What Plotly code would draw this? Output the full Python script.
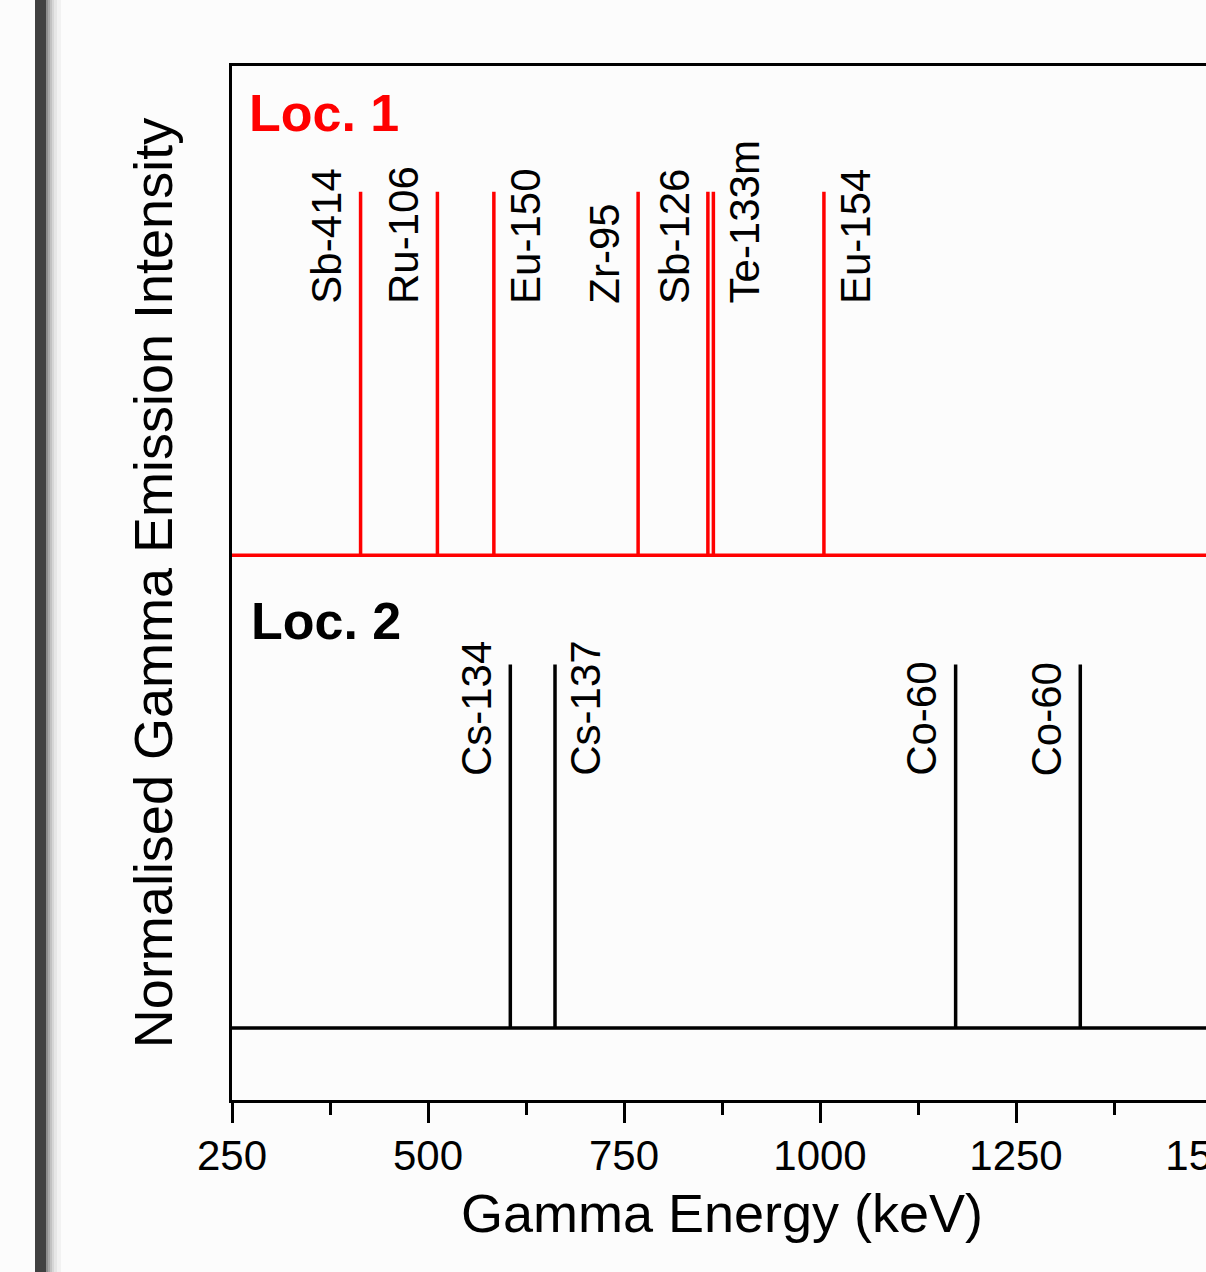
import plotly.graph_objects as go

# ---------------- data ----------------
loc1_names = ["Sb-414", "Ru-106", "Eu-150", "Zr-95", "Sb-126", "Te-133m", "Eu-154"]
loc1_energy = [414, 512, 584, 768, 857, 864, 1005]
loc1_intensity = [1, 1, 1, 1, 1, 1, 1]

loc2_names = ["Cs-134", "Cs-137", "Co-60", "Co-60"]
loc2_energy = [605, 662, 1173, 1332]
loc2_intensity = [1, 1, 1, 1]

x_ticks = [250, 500, 750, 1000, 1250, 1500]
x_range = [250, 1500]

# ---------------- style ----------------
LOC1_OFFSET = 1.3
LOC2_OFFSET = 0.0
LABEL_LEVEL = 0.687
loc1_label_side = [-1, -1, 1, -1, -1, 1, 1]
loc2_label_side = [-1, 1, -1, -1]
FONT = "Liberation Sans, Arial, sans-serif"
BG = "#fcfcfc"

W, H = 1290, 1272
ML, MR, MT, MB = 232, 78, 66, 172


def stick(energies, intens, offset):
    xs, ys = [x_range[0]], [offset]
    for e, v in sorted(zip(energies, intens)):
        xs += [e, e, e]
        ys += [offset, offset + v, offset]
    xs.append(x_range[1])
    ys.append(offset)
    return xs, ys


fig = go.Figure()
x1, y1 = stick(loc1_energy, loc1_intensity, LOC1_OFFSET)
x2, y2 = stick(loc2_energy, loc2_intensity, LOC2_OFFSET)
fig.add_trace(go.Scatter(x=x1, y=y1, mode="lines", line=dict(color="#ff0000", width=3.5), hoverinfo="skip"))
fig.add_trace(go.Scatter(x=x2, y=y2, mode="lines", line=dict(color="#000000", width=3.5), hoverinfo="skip"))

annotations = []
for names, energies, sides, off in [
    (loc1_names, loc1_energy, loc1_label_side, LOC1_OFFSET),
    (loc2_names, loc2_energy, loc2_label_side, LOC2_OFFSET),
]:
    for n, e, s in zip(names, energies, sides):
        annotations.append(dict(
            x=e, y=off + LABEL_LEVEL, xref="x", yref="y", text=n, showarrow=False,
            textangle=-90, xanchor="center", yanchor="bottom",
            xshift=34 * s if s < 0 else 31,
            font=dict(size=42, color="black", family=FONT),
        ))

annotations.append(dict(x=x_range[0], y=LOC1_OFFSET + 1.217, xref="x", yref="y", text="<b>Loc. 1</b>",
                        showarrow=False, xanchor="left", yanchor="middle", xshift=15,
                        font=dict(size=52, color="#ff0000", family=FONT)))
annotations.append(dict(x=x_range[0], y=LOC2_OFFSET + 1.12, xref="x", yref="y", text="<b>Loc. 2</b>",
                        showarrow=False, xanchor="left", yanchor="middle", xshift=17,
                        font=dict(size=52, color="#000000", family=FONT)))

# page-edge bar on the left (pixel -> paper helpers)
pw = W - ML - MR
ph = H - MT - MB


def px_x(p):
    return (p - ML) / pw


def px_y(p):
    return (H - MB - p) / ph


shapes = []
bands = [(35, 46, "#404040"), (46, 48, "#8c8c8c"), (48, 50, "#a8a8a8"), (50, 52, "#c2c2c2"),
         (52, 54, "#d6d6d6"), (54, 57, "#e6e6e6"), (57, 61, "#f2f2f2")]
for a, b, c in bands:
    shapes.append(dict(type="rect", xref="paper", yref="paper", x0=px_x(a), x1=px_x(b),
                       y0=px_y(H + 5), y1=px_y(-5), fillcolor=c, line=dict(width=0), layer="above"))

fig.update_layout(
    width=W, height=H,
    margin=dict(l=ML, r=MR, t=MT, b=MB, autoexpand=False),
    paper_bgcolor=BG, plot_bgcolor=BG,
    showlegend=False,
    font=dict(family=FONT, color="black"),
    annotations=annotations,
    shapes=shapes,
)
fig.update_xaxes(
    range=x_range, tickvals=x_ticks, ticktext=[str(t) for t in x_ticks],
    ticks="outside", ticklen=20, tickwidth=3, tickcolor="black",
    tickfont=dict(size=42, family=FONT, color="black"),
    ticklabelstandoff=-3,
    minor=dict(ticks="outside", ticklen=12, tickwidth=3, tickcolor="black", dtick=125, tick0=250),
    showline=True, linewidth=3, linecolor="black", mirror=True,
    showgrid=False, zeroline=False,
    title=dict(text="Gamma Energy (keV)", font=dict(size=54, family=FONT, color="black"), standoff=16),
    automargin=False,
)
fig.update_yaxes(
    range=[-0.198, 2.646], showticklabels=False, ticks="",
    showline=True, linewidth=3, linecolor="black", mirror=True,
    showgrid=False, zeroline=False,
    title=dict(text="Normalised Gamma Emission Intensity", font=dict(size=54, family=FONT, color="black"), standoff=40),
    automargin=False,
)

fig.write_html(
    "out.html",
    config={"displayModeBar": False},
    post_script="document.body.style.margin='0';document.body.style.overflow='hidden';document.documentElement.style.overflow='hidden';",
)
